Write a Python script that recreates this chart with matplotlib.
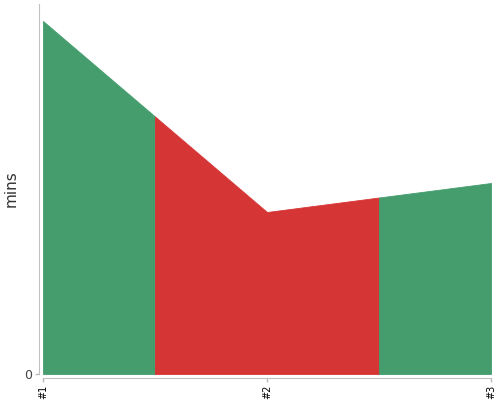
import numpy as np
import matplotlib
matplotlib.use("Agg")
import matplotlib.pyplot as plt

labels = ["#1", "#2", "#3"]
values = [35.3, 16.2, 19.1]
colors = ["#459d6e", "#d63535", "#459d6e"]
y_max = 37.0

fig = plt.figure(figsize=(5, 4), dpi=100)
ax = fig.add_axes([43 / 500, 26 / 400, 448 / 500, 370 / 400])

# spine offsets first: moving a spine resets the ticks
for side in ["top", "right"]:
    ax.spines[side].set_visible(False)
for side in ["left", "bottom"]:
    ax.spines[side].set_color("#c0c0c0")
    ax.spines[side].set_position(("outward", 3))

x = np.arange(len(values))
# each point owns the half-way span around it
for i, (v, c) in enumerate(zip(values, colors)):
    lo = max(i - 0.5, 0)
    hi = min(i + 0.5, len(values) - 1)
    xs = np.array([lo, i, hi])
    ys = np.interp(xs, x, values)
    ax.fill_between(xs, 0, ys, facecolor=c, edgecolor=c, linewidth=0.6)

ax.set_xlim(0, len(values) - 1)
ax.set_ylim(0, y_max)

ax.set_xticks(x)
ax.set_xticklabels(labels, rotation=90, fontsize=7)
ax.set_yticks([0])
ax.set_yticklabels(["0"], fontsize=9, color="#444444")
ax.tick_params(axis="both", color="#bbbbbb", length=3, width=1, pad=2)

ax.set_ylabel("mins", fontsize=11, color="#333333")
ax.yaxis.set_label_coords(-0.055, 0.5)

fig.savefig("out.png", dpi=100)
